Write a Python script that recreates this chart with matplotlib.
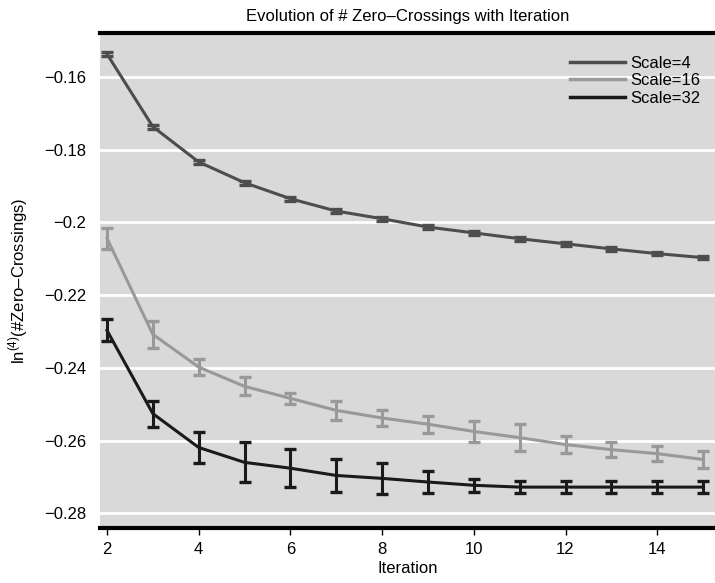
import numpy as np
import matplotlib
matplotlib.use("Agg")
import matplotlib.pyplot as plt
from matplotlib.ticker import FuncFormatter

plt.rcParams['font.family'] = ['Liberation Sans', 'DejaVu Sans']
plt.rcParams['mathtext.fontset'] = 'custom'
plt.rcParams['mathtext.rm'] = 'Liberation Sans'

# data
iterations = [2, 3, 4, 5, 6, 7, 8, 9, 10, 11, 12, 13, 14, 15]

scale4_mean = [-0.1537, -0.1737, -0.1834, -0.1891, -0.1935, -0.1969, -0.1990, -0.2013,
               -0.2029, -0.2045, -0.2059, -0.2073, -0.2086, -0.2097]
scale4_err = [0.0005] * 14

scale16_mean = [-0.2044, -0.2308, -0.2398, -0.2451, -0.2484, -0.2517, -0.2538, -0.2555,
                -0.2575, -0.2592, -0.2611, -0.2625, -0.2636, -0.2652]
scale16_err = [0.0028, 0.0037, 0.0022, 0.0025, 0.0016, 0.0026, 0.0022, 0.0023,
               0.0029, 0.0037, 0.0024, 0.0020, 0.0020, 0.0023]

scale32_mean = [-0.2297, -0.2526, -0.2619, -0.2660, -0.2676, -0.2696, -0.2704, -0.2714,
                -0.2723, -0.2728, -0.2728, -0.2728, -0.2728, -0.2728]
scale32_err = [0.0030, 0.0036, 0.0043, 0.0055, 0.0053, 0.0046, 0.0043, 0.0030,
               0.0018, 0.0017, 0.0017, 0.0017, 0.0017, 0.0017]

labels = ['Scale=4', 'Scale=16', 'Scale=32']
colors = ['#4d4d4d', '#999999', '#1a1a1a']
fs = 12

fig = plt.figure(figsize=(7.15, 5.83), dpi=100)
ax = fig.add_axes([0.14, 0.094, 0.86, 0.849])
ax.set_facecolor('#d9d9d9')

series = [(scale4_mean, scale4_err), (scale16_mean, scale16_err), (scale32_mean, scale32_err)]
for (m, e), lab, c in zip(series, labels, colors):
    ax.errorbar(iterations, m, yerr=e, color=c, linewidth=2.2, elinewidth=2.2,
                capsize=4.5, capthick=2.4, label=lab)

ax.set_xlim(1.85, 15.26)
ax.set_ylim(-0.2841, -0.148)
ax.set_xticks([2, 4, 6, 8, 10, 12, 14])
ax.set_yticks([-0.16, -0.18, -0.2, -0.22, -0.24, -0.26, -0.28])
ax.yaxis.set_major_formatter(FuncFormatter(lambda v, p: ('%g' % v).replace('-', '\u2212')))
ax.grid(axis='y', color='white', linewidth=2)
ax.set_axisbelow(True)

for s in ['left', 'right']:
    ax.spines[s].set_visible(False)
for s in ['top', 'bottom']:
    ax.spines[s].set_linewidth(3)
    ax.spines[s].set_color('black')

ax.tick_params(axis='y', length=0, labelsize=fs, pad=10)
ax.tick_params(axis='x', length=5, width=1, labelsize=fs, pad=5)

ax.set_title('Evolution of # Zero\u2013Crossings with Iteration', fontsize=fs, pad=9)
ax.set_xlabel('Iteration', fontsize=fs, labelpad=3)
ax.set_ylabel('ln$^{\\mathrm{(4)}}$(#Zero\u2013Crossings)', fontsize=fs, labelpad=10)

handles = [plt.Line2D([], [], color=c, linewidth=2.5) for c in colors]
ax.legend(handles, labels, loc='upper right', frameon=False, fontsize=fs,
          handlelength=3.3, handletextpad=0.3, labelspacing=0.15,
          bbox_to_anchor=(1.0, 0.985))

fig.savefig('out.png', dpi=100)
